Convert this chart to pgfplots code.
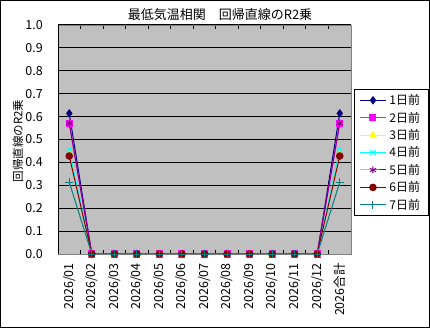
\documentclass[border=0pt]{standalone}
\usepackage{fontspec}
\setmainfont{Noto Sans CJK JP}
\usepackage{pgfplots}
\pgfplotsset{compat=1.18}
\definecolor{bg}{HTML}{C0C0C0}
\definecolor{s1}{HTML}{000080}
\definecolor{s2}{HTML}{FF00FF}
\definecolor{s3}{HTML}{FFFF00}
\definecolor{s4}{HTML}{00FFFF}
\definecolor{s5}{HTML}{800080}
\definecolor{s6}{HTML}{800000}
\definecolor{s7}{HTML}{008080}
\begin{document}
\begin{tikzpicture}[x=1bp,y=1bp]
\useasboundingbox (0,0) rectangle (430,328);
\fill[white] (0,0) rectangle (430,328);
\draw[black, line width=1bp] (0.5,0.5) rectangle (429.5,327.5);
\node[font=\fontsize{13bp}{15bp}\selectfont] at (220,313) {最低気温相関　回帰直線のR2乗};
\node[font=\fontsize{11.5bp}{13bp}\selectfont, rotate=90] at (18,187) {回帰直線のR2乗};
\begin{axis}[
  at={(58bp,74bp)}, anchor=south west,
  scale only axis, width=293bp, height=229bp,
  xmin=-0.5, xmax=12.5, ymin=0, ymax=1,
  xtick={0,...,12},
  xticklabels={2026/01,2026/02,2026/03,2026/04,2026/05,2026/06,2026/07,2026/08,2026/09,2026/10,2026/11,2026/12,2026合計},
  minor xtick={0.5,1.5,...,11.5},
  ytick={0,0.1,...,1.0},
  /pgf/number format/fixed,
  /pgf/number format/fixed zerofill,
  /pgf/number format/precision=1,
  /pgf/number format/assume math mode=true,
  ticklabel style={font=\fontsize{12.5bp}{14bp}\selectfont},
  xticklabel style={rotate=90, anchor=east, inner sep=0pt},
  xticklabel shift=9bp,
  yticklabel style={anchor=east, inner sep=0pt},
  yticklabel shift=15bp,
  major tick length=0pt,
  minor tick length=4bp,
  tick align=inside,
  minor tick style={black, line width=1bp},
  axis line style={draw=gray, line width=0.8bp},
  axis background/.style={fill=bg},
  ymajorgrids, major grid style={black, line width=1bp},
  legend style={at={(1.0102,0.7205)}, anchor=north west, draw=black, line width=1bp, fill=white,
    font=\fontsize{12bp}{14bp}\selectfont, row sep=1.8bp, inner xsep=5bp, inner ysep=3bp,
    nodes={inner xsep=3bp}},
  legend cell align=left,
  legend image code/.code={\draw[mark repeat=2,mark phase=2,#1] plot coordinates {(0bp,0bp)(13bp,0bp)(26bp,0bp)};},
  every axis plot/.append style={line width=1bp, mark options={solid}},
]
\draw[black, line width=1bp] (rel axis cs:0,0) -- (rel axis cs:0,1);
\addplot[s1, mark=diamond*, mark size=3.5bp] coordinates {(0,0.614)(1,0)(2,0)(3,0)(4,0)(5,0)(6,0)(7,0)(8,0)(9,0)(10,0)(11,0)(12,0.614)};
\addplot[s2, mark=square*, mark size=3bp] coordinates {(0,0.571)(1,0)(2,0)(3,0)(4,0)(5,0)(6,0)(7,0)(8,0)(9,0)(10,0)(11,0)(12,0.571)};
\addplot[s3, mark=triangle*, mark size=3.5bp] coordinates {(0,0.440)(1,0)(2,0)(3,0)(4,0)(5,0)(6,0)(7,0)(8,0)(9,0)(10,0)(11,0)(12,0.440)};
\addplot[s4, mark=x, mark size=3.5bp] coordinates {(0,0.454)(1,0)(2,0)(3,0)(4,0)(5,0)(6,0)(7,0)(8,0)(9,0)(10,0)(11,0)(12,0.454)};
\addplot[s5, mark=asterisk, mark size=3.5bp] coordinates {(0,0.571)(1,0)(2,0)(3,0)(4,0)(5,0)(6,0)(7,0)(8,0)(9,0)(10,0)(11,0)(12,0.571)};
\addplot[s6, mark=*, mark size=3.3bp] coordinates {(0,0.428)(1,0)(2,0)(3,0)(4,0)(5,0)(6,0)(7,0)(8,0)(9,0)(10,0)(11,0)(12,0.428)};
\addplot[s7, mark=+, mark size=4bp] coordinates {(0,0.313)(1,0)(2,0)(3,0)(4,0)(5,0)(6,0)(7,0)(8,0)(9,0)(10,0)(11,0)(12,0.313)};
\legend{1日前,2日前,3日前,4日前,5日前,6日前,7日前}
\end{axis}
\end{tikzpicture}
\end{document}
